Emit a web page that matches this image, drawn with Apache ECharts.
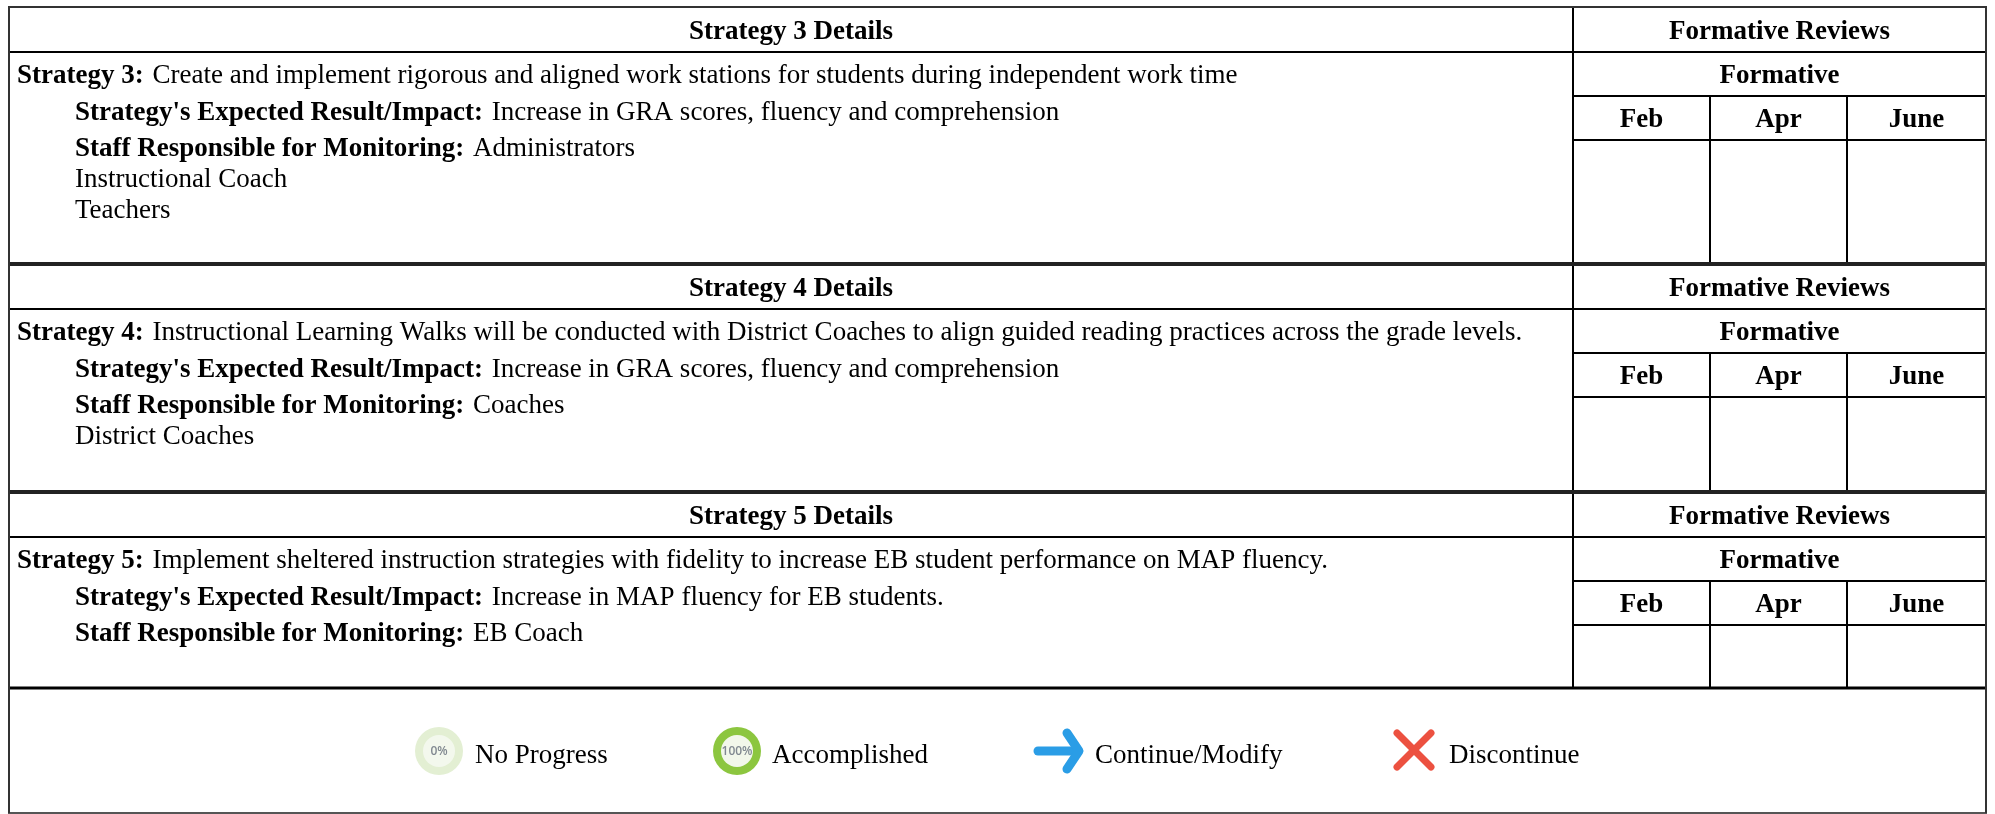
<!DOCTYPE html>
<html>
<head>
<meta charset="utf-8">
<title>Strategy details</title>
<style>
  html, body { margin: 0; padding: 0; background: #fff; }
  #chart-container { width: 1995px; height: 814px; }
</style>
<script src="https://cdn.jsdelivr.net/npm/echarts@6/dist/echarts.min.js"></script>
</head>
<body>
<div id="chart-container"></div>
<script>
// table text
const strategyTitles = ['Strategy 3 Details', 'Strategy 4 Details', 'Strategy 5 Details'];
const strategyLabels = ['Strategy 3:', 'Strategy 4:', 'Strategy 5:'];
const strategyTexts = [
  'Create and implement rigorous and aligned work stations for students during independent work time',
  'Instructional Learning Walks will be conducted with District Coaches to align guided reading practices across the grade levels.',
  'Implement sheltered instruction strategies with fidelity to increase EB student performance on MAP fluency.'
];
const expectedResults = [
  'Increase in GRA scores, fluency and comprehension',
  'Increase in GRA scores, fluency and comprehension',
  'Increase in MAP fluency for EB students.'
];
const staffLists = [
  ['Administrators', 'Instructional Coach', 'Teachers'],
  ['Coaches', 'District Coaches'],
  ['EB Coach']
];
const reviewMonths = ['Feb', 'Apr', 'June'];
const legendLabels = ['No Progress', 'Accomplished', 'Continue/Modify', 'Discontinue'];

// layout, in page pixels
const FONT = '"Liberation Serif", "Times New Roman", serif';
const SIZE = 27;
const frameLeft = 9, frameRight = 1986, frameTop = 7, frameBottom = 813;
const splitX = 1573;
const monthX = [1573, 1710, 1847, 1986];
const blockTops = [7, 264, 492];
const blockEnds = [264, 492, 688];

const els = [];

function hLine(y, x1, x2, width, color) {
  els.push({ type: 'line', silent: true, shape: { x1: x1, y1: y, x2: x2, y2: y }, style: { stroke: color || '#000', lineWidth: width || 2 } });
}
function vLine(x, y1, y2, width, color) {
  els.push({ type: 'line', silent: true, shape: { x1: x, y1: y1, x2: x, y2: y2 }, style: { stroke: color || '#000', lineWidth: width || 2 } });
}
function label(text, x, y, bold, align, size) {
  els.push({
    type: 'text', silent: true, x: x, y: y,
    style: { text: text, fill: '#000', align: align || 'left', verticalAlign: 'middle',
      font: (bold ? 'bold ' : '') + (size || SIZE) + 'px ' + FONT }
  });
}
function richLabel(boldText, text, x, y) {
  els.push({
    type: 'text', silent: true, x: x, y: y,
    style: {
      text: '{b|' + boldText + '} {n|' + text + '}',
      align: 'left', verticalAlign: 'middle',
      rich: {
        b: { font: 'bold ' + SIZE + 'px ' + FONT, fill: '#000', padding: [0, 2, 0, 0] },
        n: { font: SIZE + 'px ' + FONT, fill: '#000' }
      },
      font: SIZE + 'px ' + FONT, fill: '#000'
    }
  });
}

strategyTitles.forEach((title, i) => {
  const t = blockTops[i], end = blockEnds[i];
  const y1 = t + 45, y2 = t + 89, y3 = t + 133;

  label(title, (frameLeft + splitX) / 2, t + 25, true, 'center');
  label('Formative Reviews', (splitX + frameRight) / 2, t + 25, true, 'center');
  label('Formative', (splitX + frameRight) / 2, t + 69, true, 'center');
  reviewMonths.forEach((m, j) => {
    label(m, (monthX[j] + monthX[j + 1]) / 2, t + 113, true, 'center');
  });

  hLine(y1, frameLeft, frameRight);
  hLine(y2, splitX, frameRight);
  hLine(y3, splitX, frameRight);
  vLine(splitX, t, end);
  vLine(monthX[1], y2, end);
  vLine(monthX[2], y2, end);

  richLabel(strategyLabels[i], strategyTexts[i], 17, t + 69);
  richLabel("Strategy's Expected Result/Impact:", expectedResults[i], 75, t + 106);
  richLabel('Staff Responsible for Monitoring:', staffLists[i][0], 75, t + 142);
  staffLists[i].slice(1).forEach((s, k) => {
    label(s, 75, t + 173 + k * 31, false);
  });
});

// block separators and frame
hLine(264, frameLeft, frameRight, 4, '#222');
hLine(492, frameLeft, frameRight, 4, '#222');
hLine(688, frameLeft, frameRight, 3, '#000');
hLine(frameTop, frameLeft - 1, frameRight + 1, 2, '#333');
hLine(frameBottom, frameLeft - 1, frameRight + 1, 2, '#555');
vLine(frameLeft, frameTop, frameBottom, 2, '#333');
vLine(frameRight, frameTop, frameBottom, 2, '#333');

// legend icons
function ring(cx, cy, outerColor, innerColor, text) {
  els.push({ type: 'circle', silent: true, shape: { cx: cx, cy: cy, r: 24 }, style: { fill: outerColor } });
  els.push({ type: 'circle', silent: true, shape: { cx: cx, cy: cy, r: 16 }, style: { fill: innerColor } });
  els.push({ type: 'text', silent: true, x: cx, y: cy + 1,
    style: { text: text, fill: '#808890', align: 'center', verticalAlign: 'middle', font: '600 12px "Open Sans", sans-serif' } });
}
ring(439, 751, '#e3efd3', '#f3f8ed', '0%');
ring(737, 751, '#8cc63f', '#f2f7ea', '100%');

const roundStroke = (color, width) => ({ stroke: color, lineWidth: width, lineCap: 'round', lineJoin: 'round', fill: 'none' });
els.push({ type: 'polyline', silent: true, shape: { points: [[1038, 751], [1078, 751]] }, style: roundStroke('#2a9de6', 9) });
els.push({ type: 'polyline', silent: true, shape: { points: [[1067, 733], [1079, 751], [1067, 769]] }, style: roundStroke('#2a9de6', 9) });
els.push({ type: 'polyline', silent: true, shape: { points: [[1397, 733], [1431, 767]] }, style: roundStroke('#ec5140', 7) });
els.push({ type: 'polyline', silent: true, shape: { points: [[1431, 733], [1397, 767]] }, style: roundStroke('#ec5140', 7) });

[475, 772, 1095, 1449].forEach((x, i) => label(legendLabels[i], x, 756, false, 'left', 27));

const chart = echarts.init(document.getElementById('chart-container'));
chart.setOption({ backgroundColor: '#fff', animation: false, graphic: { elements: els } });
</script>
</body>
</html>
